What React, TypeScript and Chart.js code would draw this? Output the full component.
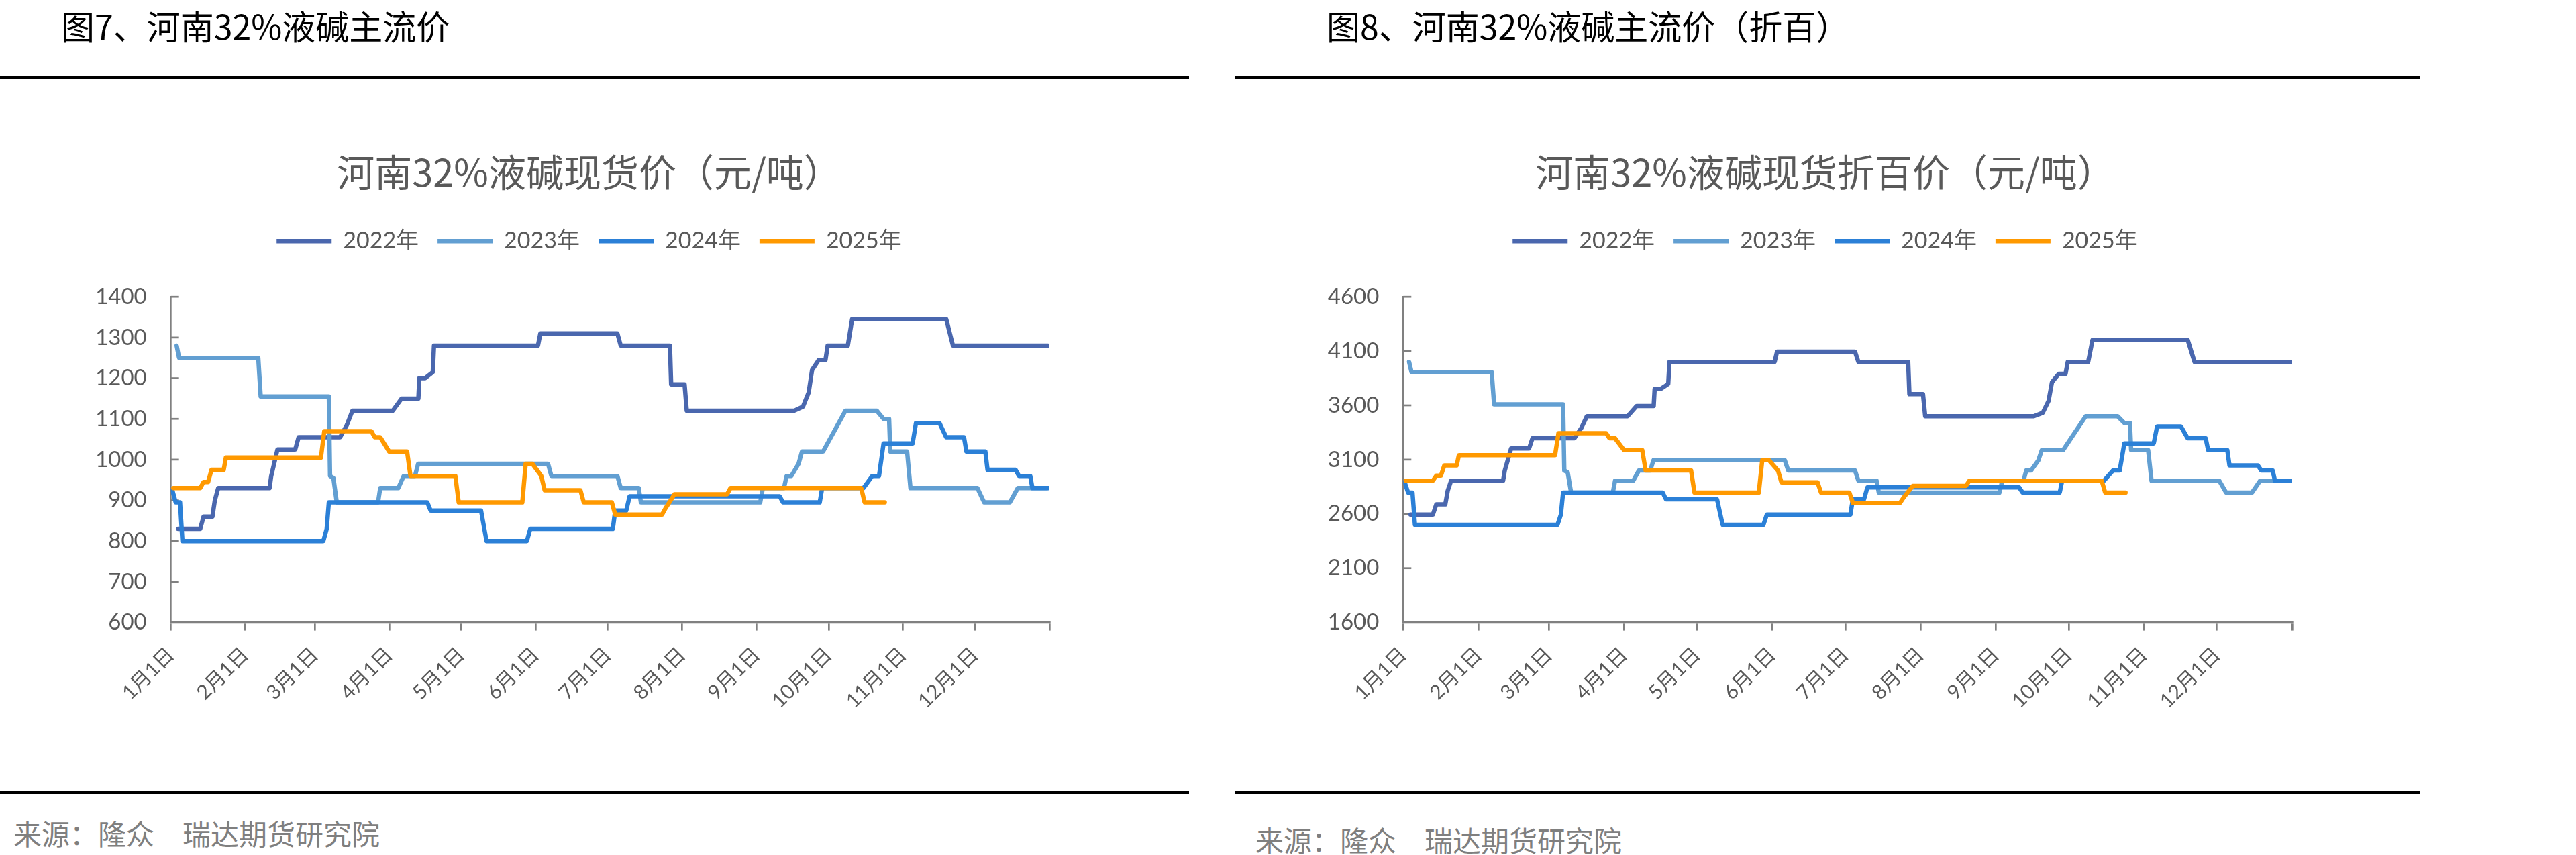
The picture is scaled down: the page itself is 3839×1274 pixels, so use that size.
import React, { useEffect, useRef } from "react";
import { Chart, registerables } from "chart.js";

Chart.register(...registerables);

// ---------- DATA ----------
// x axis: day of year (leap-year date axis, 366 days), ticks at each month start
const monthTicks = [0, 31, 60, 91, 121, 152, 182, 213, 244, 274, 305, 335, 366];
const monthLabels = ["1月1日", "2月1日", "3月1日", "4月1日", "5月1日", "6月1日", "7月1日", "8月1日", "9月1日", "10月1日", "11月1日", "12月1日", ""];

const seriesNames = ["2022年", "2023年", "2024年", "2025年"];
const seriesColors = ["#4A67AE", "#629FD2", "#2B80D7", "#FF9900"];

const days2022 = [3, 12.2, 13.6, 17.3, 18.3, 19.7, 41.1, 41.8, 44.4, 51.8, 53.2, 70.5, 73.3, 75.6, 92.4, 96.1, 103.1, 103.5, 105.9, 109.1, 109.6, 152.9, 153.9, 186, 187.4, 207.9, 208.4, 214, 214.9, 259.6, 263.3, 265.7, 267.1, 269.9, 272.7, 273.6, 282, 283.8, 323, 325.8, 365.4];
const price2022 = [830, 830, 860, 860, 900, 930, 930, 960, 1025, 1025, 1055, 1055, 1085, 1120, 1120, 1150, 1150, 1200, 1200, 1215, 1280, 1280, 1310, 1310, 1280, 1280, 1185, 1185, 1120, 1120, 1130, 1165, 1220, 1245, 1245, 1280, 1280, 1345, 1345, 1280, 1280];
const zhe2022 = [2594, 2594, 2688, 2688, 2813, 2906, 2906, 3000, 3203, 3203, 3297, 3297, 3391, 3500, 3500, 3594, 3594, 3750, 3750, 3797, 4000, 4000, 4094, 4094, 4000, 4000, 3703, 3703, 3500, 3500, 3531, 3641, 3813, 3891, 3891, 4000, 4000, 4203, 4203, 4000, 4000];

const days2023 = [2.4, 3.4, 36.4, 37.4, 65.8, 66.3, 67.7, 69.1, 86.3, 87.2, 94.7, 97, 101.7, 103, 157.1, 158.5, 186, 187.4, 194.9, 195.8, 245.5, 246.6, 255.4, 256.5, 258.5, 261.5, 262.9, 271.7, 281, 294.1, 296.9, 299.2, 299.7, 306.7, 308.1, 336, 338.8, 349.5, 352.8, 365];
const price2023 = [1280, 1250, 1250, 1155, 1155, 960, 955, 895, 895, 930, 930, 960, 960, 990, 990, 960, 960, 930, 930, 895, 895, 930, 930, 960, 960, 990, 1020, 1020, 1120, 1120, 1100, 1100, 1020, 1020, 930, 930, 895, 895, 930, 930];
const zhe2023 = [4000, 3906, 3906, 3609, 3609, 3000, 2984, 2797, 2797, 2906, 2906, 3000, 3000, 3094, 3094, 3000, 3000, 2906, 2906, 2797, 2797, 2906, 2906, 3000, 3000, 3094, 3188, 3188, 3500, 3500, 3438, 3438, 3188, 3188, 2906, 2906, 2797, 2797, 2906, 2906];

const days2024 = [0.6, 2, 3.8, 4.8, 63.5, 64.9, 65.8, 106.8, 108.2, 129.2, 131.5, 148.3, 149.7, 184.1, 185.1, 189.7, 191.1, 253.6, 255, 270.3, 271.3, 288.5, 292.2, 295, 296.9, 309, 310.4, 320.2, 323, 330.4, 331.4, 339.3, 340.2, 351.9, 353.3, 358, 358.9, 366];
const price2024 = [925, 895, 895, 800, 800, 830, 895, 895, 875, 875, 800, 800, 830, 830, 875, 875, 910, 910, 895, 895, 930, 930, 960, 960, 1040, 1040, 1090, 1090, 1055, 1055, 1020, 1020, 975, 975, 960, 960, 930, 930];
const zhe2024 = [2891, 2797, 2797, 2500, 2500, 2594, 2797, 2797, 2734, 2734, 2500, 2500, 2594, 2594, 2734, 2734, 2844, 2844, 2797, 2797, 2906, 2906, 3000, 3000, 3250, 3250, 3406, 3406, 3297, 3297, 3188, 3188, 3047, 3047, 3000, 3000, 2906, 2906];

const days2025 = [1, 12.2, 13.6, 15.5, 16.9, 22, 22.9, 62.5, 63.9, 83.5, 84.9, 87.2, 90.9, 98.4, 99.8, 118.5, 119.9, 146.4, 147.8, 150.6, 154.3, 155.7, 170.6, 172, 183.7, 185.1, 204.6, 206, 209.8, 231.7, 233.1, 287.6, 289, 297.4];
const price2025 = [930, 930, 945, 945, 975, 975, 1005, 1005, 1070, 1070, 1055, 1055, 1020, 1020, 960, 960, 895, 895, 990, 990, 960, 925, 925, 895, 895, 865, 865, 880, 915, 915, 930, 930, 895, 895];
const zhe2025 = [2906, 2906, 2953, 2953, 3047, 3047, 3141, 3141, 3344, 3344, 3297, 3297, 3188, 3188, 3000, 3000, 2797, 2797, 3094, 3094, 3000, 2891, 2891, 2797, 2797, 2703, 2703, 2750, 2859, 2859, 2906, 2906, 2797, 2797];

const seriesDays = [days2022, days2023, days2024, days2025];
const priceSeries = [price2022, price2023, price2024, price2025];
const zheSeries = [zhe2022, zhe2023, zhe2024, zhe2025];

// ---------- STYLE ----------
const AXIS_COLOR = "#808080";
const TEXT_COLOR = "#595959";
const CJK = '"Noto Sans CJK SC", sans-serif';
const LATIN_CJK = 'Lato, "Noto Sans CJK SC", sans-serif';
const CANVAS_TOP = 180;
const CANVAS_H = 1000;
const X_AXIS_H = 252.4;
const Y_AXIS_W = 120;

const innerTicks = {
  id: "innerTicks",
  beforeDatasetsDraw(chart: any) {
    const y = chart.scales.y;
    const area = chart.chartArea;
    const ctx = chart.ctx;
    ctx.save();
    ctx.strokeStyle = AXIS_COLOR;
    ctx.lineWidth = 2.7;
    y.ticks.forEach((t: any) => {
      const py = y.getPixelForValue(t.value);
      ctx.beginPath();
      ctx.moveTo(area.left, py);
      ctx.lineTo(area.left + 12, py);
      ctx.stroke();
    });
    ctx.restore();
  },
};

type Cfg = {
  left: number;
  width: number;
  padLeft: number;
  padRight: number;
  rightSpace: number;
  yMin: number;
  yMax: number;
  yStep: number;
  title: string;
  values: number[][];
};

function LineChart({ cfg }: { cfg: Cfg }) {
  const ref = useRef<HTMLCanvasElement>(null);
  useEffect(() => {
    if (!ref.current) return;
    const order = [3, 2, 1, 0];
    const datasets = order.map((i) => ({
      label: seriesNames[i],
      data: seriesDays[i].map((d, k) => ({ x: d, y: cfg.values[i][k] })),
      borderColor: seriesColors[i],
      backgroundColor: seriesColors[i],
      borderWidth: 6.5,
      borderCapStyle: "round" as const,
      borderJoinStyle: "round" as const,
      pointRadius: 0,
      pointHoverRadius: 0,
      tension: 0,
      fill: false,
    }));
    const chart = new Chart(ref.current, {
      type: "line",
      data: { datasets },
      plugins: [innerTicks],
      options: {
        responsive: false,
        animation: false,
        devicePixelRatio: 1,
        layout: { padding: { left: cfg.padLeft, right: cfg.padRight, top: 0, bottom: 0 } },
        plugins: {
          title: {
            display: true,
            text: cfg.title,
            color: TEXT_COLOR,
            font: { family: CJK, size: 56, weight: "normal", lineHeight: 1.2 },
            padding: { top: 43, bottom: 24 },
          },
          legend: {
            display: true,
            position: "top",
            reverse: true,
            labels: {
              usePointStyle: true,
              pointStyle: "line",
              pointStyleWidth: 82,
              padding: 28,
              color: TEXT_COLOR,
              font: { family: LATIN_CJK, size: 34 },
            },
          },
          tooltip: { enabled: false },
        },
        scales: {
          x: {
            type: "linear",
            position: "bottom",
            min: 0,
            max: 366,
            afterBuildTicks: (s: any) => {
              s.ticks = monthTicks.map((v) => ({ value: v }));
            },
            afterFit: (s: any) => {
              s.height = X_AXIS_H;
            },
            ticks: {
              autoSkip: false,
              minRotation: 45,
              maxRotation: 45,
              padding: 18,
              color: TEXT_COLOR,
              font: { family: LATIN_CJK, size: 30 },
              callback: (v: any) => {
                const idx = monthTicks.indexOf(Number(v));
                return idx >= 0 ? monthLabels[idx] : "";
              },
            },
            grid: {
              display: true,
              drawOnChartArea: false,
              drawTicks: true,
              tickLength: 12,
              color: AXIS_COLOR,
              lineWidth: 2.7,
            },
            border: { display: true, color: AXIS_COLOR, width: 3.3 },
          },
          xTop: {
            type: "linear",
            position: "top",
            display: true,
            ticks: { display: false },
            grid: { display: false },
            border: { display: false },
            afterFit: (s: any) => {
              s.height = 56;
            },
          },
          y: {
            type: "linear",
            position: "left",
            min: cfg.yMin,
            max: cfg.yMax,
            afterFit: (s: any) => {
              s.width = Y_AXIS_W;
            },
            ticks: {
              stepSize: cfg.yStep,
              padding: 36,
              color: TEXT_COLOR,
              font: { family: LATIN_CJK, size: 33 },
              callback: (v: any) => String(v),
            },
            grid: { display: false, drawTicks: false },
            border: { display: true, color: AXIS_COLOR, width: 2.7 },
          },
          yRight: {
            type: "linear",
            position: "right",
            display: true,
            ticks: { display: false },
            grid: { display: false },
            border: { display: false },
            afterFit: (s: any) => {
              s.width = cfg.rightSpace;
            },
          },
        },
      } as any,
    });
    return () => chart.destroy();
  }, []);
  return (
    <canvas
      ref={ref}
      width={cfg.width}
      height={CANVAS_H}
      style={{ position: "absolute", left: cfg.left, top: CANVAS_TOP, width: cfg.width, height: CANVAS_H }}
    />
  );
}

// left chart plot: x 254.7..1564 ; title/legend centred near 878
const leftCfg: Cfg = {
  left: 0,
  width: 1772,
  padLeft: 134.7,
  padRight: 150.7,
  rightSpace: 57.3,
  yMin: 600,
  yMax: 1400,
  yStep: 100,
  title: "河南32%液碱现货价（元/吨）",
  values: priceSeries,
};

// right chart plot: x 2091.3..3416 ; title/legend centred near 2720
const rightCfg: Cfg = {
  left: 1840,
  width: 1767,
  padLeft: 131.3,
  padRight: 138.3,
  rightSpace: 52.7,
  yMin: 1600,
  yMax: 4600,
  yStep: 500,
  title: "河南32%液碱现货折百价（元/吨）",
  values: zheSeries,
};

const abs = (left: number, top: number, extra: React.CSSProperties = {}): React.CSSProperties => ({
  position: "absolute",
  left,
  top,
  margin: 0,
  whiteSpace: "nowrap",
  ...extra,
});

export default function App() {
  const heading: React.CSSProperties = { fontFamily: CJK, fontSize: 50, lineHeight: "50px", color: "#000" };
  const source: React.CSSProperties = { fontFamily: CJK, fontSize: 42, lineHeight: "42px", color: "#7F7F7F" };
  return (
    <div style={{ position: "absolute", left: 0, top: 0, width: 3839, height: 1274, background: "#fff" }}>
      <div style={abs(91, 12, heading)}>图7、河南32%液碱主流价</div>
      <div style={abs(1977, 12, heading)}>图8、河南32%液碱主流价（折百）</div>
      <div style={abs(0, 113, { width: 1772, height: 4, background: "#000" })} />
      <div style={abs(1840, 113, { width: 1767, height: 4, background: "#000" })} />
      <LineChart cfg={leftCfg} />
      <LineChart cfg={rightCfg} />
      <div style={abs(0, 1179, { width: 1772, height: 4, background: "#000" })} />
      <div style={abs(1840, 1179, { width: 1767, height: 4, background: "#000" })} />
      <div style={abs(20, 1220, source)}>来源：隆众　瑞达期货研究院</div>
      <div style={abs(1871, 1230, source)}>来源：隆众　瑞达期货研究院</div>
    </div>
  );
}
